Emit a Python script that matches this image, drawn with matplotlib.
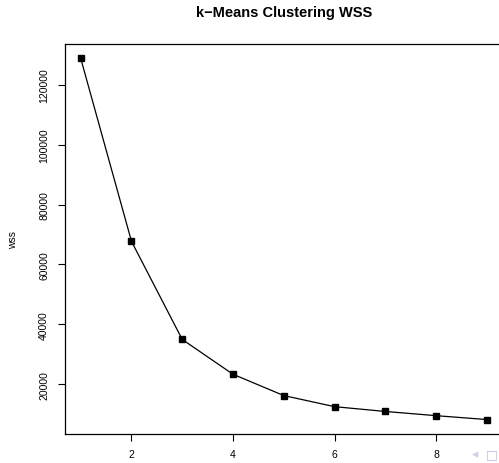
import matplotlib
matplotlib.use("Agg")
from matplotlib import pyplot as plt

# within-cluster sum of squares for k = 1..9
k_values = [1, 2, 3, 4, 5, 6, 7, 8, 9]
wss = [128700, 67700, 35000, 23400, 16300, 12600, 11000, 9600, 8300]
x_ticks = [2, 4, 6, 8]
y_ticks = [20000, 40000, 60000, 80000, 100000, 120000]

plt.rcParams['font.family'] = ['Liberation Sans', 'DejaVu Sans']

W, H = 499, 464
fig = plt.figure(figsize=(W / 100, H / 100), dpi=100)

# plot region runs slightly past the right edge of the picture
left, right, top, bottom = 64.5, 503, 45, 435
ax = fig.add_axes([left / W, 1 - bottom / H, (right - left) / W, (bottom - top) / H])

ax.plot(k_values, wss, color='black', lw=0.9, marker='s', ms=4.5,
        markerfacecolor='black', markeredgecolor='black')

xr = max(k_values) - min(k_values)
ax.set_xlim(min(k_values) - 0.04 * xr, max(k_values) + 0.04 * xr)
yr = max(wss) - min(wss)
ax.set_ylim(min(wss) - 0.04 * yr, max(wss) + 0.04 * yr)

ax.set_xticks(x_ticks)
ax.set_yticks(y_ticks)
ax.tick_params(direction='out', length=5, width=0.8, labelsize=7.5, pad=6)
for lab in ax.get_yticklabels():
    lab.set_rotation(90)
    lab.set_va('center')
for s in ax.spines.values():
    s.set_linewidth(0.9)

ax.set_ylabel('wss', fontsize=7.5, labelpad=15)
fig.text(0.5 * (64.5 + 503) / W, 1 - 13 / H, 'k\u2212Means Clustering WSS',
         ha='center', va='center', fontsize=10.5, fontweight='bold')

# beamer navigation symbols in the corner
fig.text(475 / W, 1 - 455 / H, '\u25c2', color='#d0d0ee', fontsize=9,
         ha='center', va='center', family=['DejaVu Sans'])
fig.text(492 / W, 1 - 455 / H, '\u25a1', color='#b8b8e6', fontsize=9,
         ha='center', va='center', family=['DejaVu Sans'])

fig.savefig('out.png', dpi=100)
